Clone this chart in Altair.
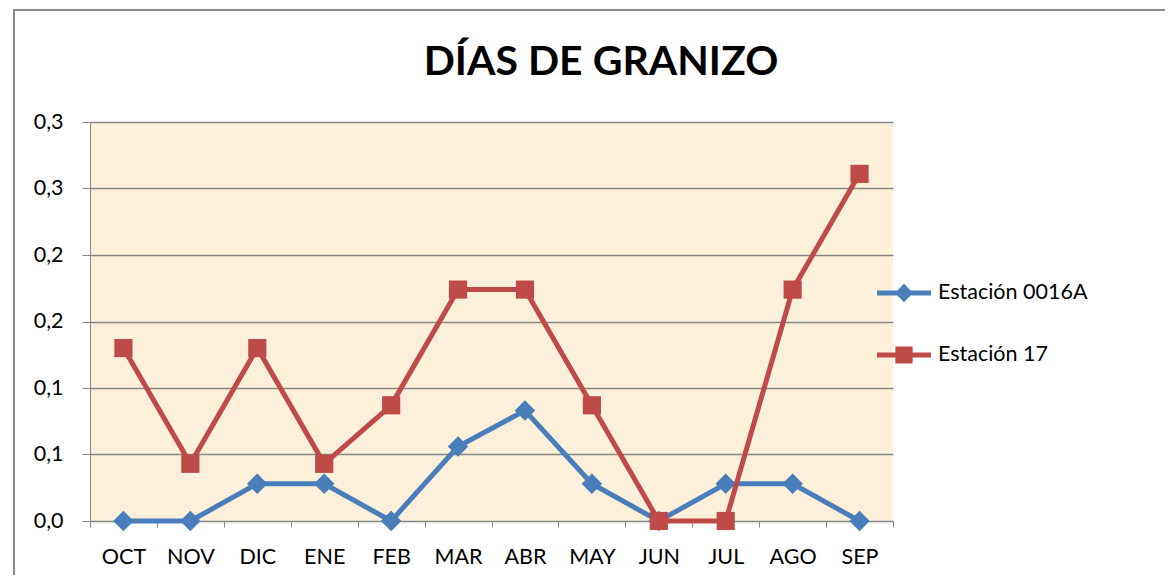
import altair as alt
import pandas as pd

months = ["OCT", "NOV", "DIC", "ENE", "FEB", "MAR", "ABR", "MAY", "JUN", "JUL", "AGO", "SEP"]
series_names = ["Estación 0016A", "Estación 17"]
est_0016a = [0.0, 0.0, 0.028, 0.028, 0.0, 0.056, 0.083, 0.028, 0.0, 0.028, 0.028, 0.0]
est_17 = [0.130, 0.043, 0.130, 0.043, 0.087, 0.174, 0.174, 0.087, 0.0, 0.0, 0.174, 0.261]
y_ticks = [0.0, 0.05, 0.10, 0.15, 0.20, 0.25, 0.30]
y_tick_labels = ["0,0", "0,1", "0,1", "0,2", "0,2", "0,3", "0,3"]
title_text = "DÍAS DE GRANIZO"
colors = ["#4A7EBB", "#BE4B48"]

rows = []
for i, m in enumerate(months):
    rows.append({"mes": m, "serie": series_names[0], "valor": est_0016a[i], "orden": 0})
for i, m in enumerate(months):
    rows.append({"mes": m, "serie": series_names[1], "valor": est_17[i], "orden": 1})
df = pd.DataFrame(rows)

FONT = "Lato"
FS = 21.5
label_expr = "[" + ",".join("'%s'" % s for s in y_tick_labels) + "][round(datum.value*20)]"

diamond_legend = "M-1,-0.09L1,-0.09L1,0.09L-1,0.09Z M0,-0.34L0.34,0L0,0.34L-0.34,0Z"
square_legend = "M-1,-0.09L1,-0.09L1,0.09L-1,0.09Z M-0.32,-0.32L0.32,-0.32L0.32,0.32L-0.32,0.32Z"

x_enc = alt.X("mes:N", sort=months, bandPosition=0.5,
              scale=alt.Scale(type="band", paddingInner=0, paddingOuter=0),
              axis=alt.Axis(title=None, tickBand="extent", labelAngle=0, labelFont=FONT,
                            labelFontSize=FS, labelColor="#000000", domainColor="#868686",
                            tickColor="#868686", tickSize=6, labelPadding=19, grid=False))
y_enc = alt.Y("valor:Q", scale=alt.Scale(domain=[0, 0.3], nice=False, zero=True),
              axis=alt.Axis(title=None, values=y_ticks, labelExpr=label_expr, labelFont=FONT,
                            labelFontSize=FS, labelColor="#000000", domainColor="#868686",
                            tickColor="#868686", tickSize=8, labelPadding=19,
                            gridColor="#868686", gridWidth=1.3))
color_enc = alt.Color("serie:N", sort=series_names,
                      scale=alt.Scale(domain=series_names, range=colors),
                      legend=alt.Legend(title=None, orient="none", legendX=787, legendY=144,
                                        labelFont=FONT, labelFontSize=FS, labelColor="#000000",
                                        symbolSize=2900, symbolStrokeWidth=0,
                                        labelOffset=7, rowPadding=24, symbolOpacity=1))
shape_enc = alt.Shape("serie:N", sort=series_names,
                      scale=alt.Scale(domain=series_names, range=[diamond_legend, square_legend]),
                      legend=None)

base = alt.Chart(df)

frame = base.mark_rect(fill=None, stroke="#8C8C8C", strokeWidth=2, clip=False).encode(
    x=alt.value(-76), x2=alt.value(1100), y=alt.value(-112), y2=alt.value(520)
)

title = alt.Chart(pd.DataFrame({"t": [title_text]})).mark_text(
    font=FONT, fontSize=41, fontWeight="bold", color="#000000", align="center", baseline="alphabetic"
).encode(text="t:N", x=alt.value(511), y=alt.value(-47))

lines_blue = alt.Chart(df[df.serie == series_names[0]]).mark_line(strokeWidth=5, color=colors[0]).encode(
    x=x_enc, y=y_enc
)
pts_blue = alt.Chart(df[df.serie == series_names[0]]).mark_point(
    shape="diamond", filled=True, size=420, opacity=1, color=colors[0]
).encode(x=x_enc, y=y_enc)

lines_red = alt.Chart(df[df.serie == series_names[1]]).mark_line(strokeWidth=5, color=colors[1]).encode(
    x=x_enc, y=y_enc
)
pts_red = alt.Chart(df[df.serie == series_names[1]]).mark_point(
    shape="square", filled=True, size=330, opacity=1, color=colors[1]
).encode(x=x_enc, y=y_enc)

legend_layer = base.mark_point(filled=True, opacity=0).encode(
    x=x_enc, y=y_enc, color=color_enc, shape=shape_enc
)

chart = alt.layer(frame, title, lines_blue, pts_blue, lines_red, pts_red, legend_layer).properties(
    width=803, height=399,
    padding={"left": 82, "top": 114, "right": 272, "bottom": 54},
    autosize=alt.AutoSizeParams(type="none"),
    background="#FFFFFF",
).configure_view(fill="#FCF0DA", stroke=None).resolve_scale(color="shared", shape="shared")

chart.save("out.html", embed_options={"renderer": "svg", "actions": False})
